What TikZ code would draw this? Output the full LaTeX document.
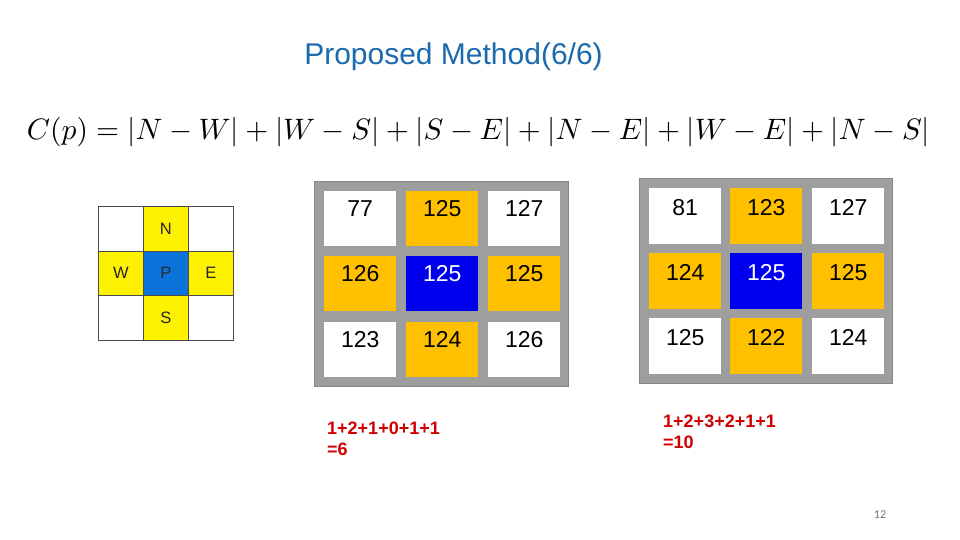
\documentclass[tikz,border=0pt]{standalone}
\usepackage{fontspec}
\setmainfont{Liberation Sans}
\newfontfamily\pagefont{Carlito}
\definecolor{titleblue}{HTML}{1C6AAE}
\definecolor{framegray}{HTML}{9E9E9E}
\definecolor{cellgold}{HTML}{FFC000}
\definecolor{cellblue}{HTML}{0000EE}
\definecolor{nyellow}{HTML}{FFF200}
\definecolor{nblue}{HTML}{0A74DA}
\definecolor{sumred}{HTML}{D00000}
\begin{document}
\begin{tikzpicture}[x=1pt,y=-1pt,
  frame/.style={fill=framegray, draw=framegray!85!black, line width=0.8pt},
  cellL/.style={anchor=north west, minimum width=72pt, inner xsep=0pt, inner ysep=0pt,
     text height=25pt, text depth=30pt, font=\fontsize{23}{23}\selectfont},
  cellR/.style={anchor=north west, minimum width=72pt, inner xsep=0pt, inner ysep=0pt,
     text height=27pt, text depth=29pt, font=\fontsize{23}{23}\selectfont},
  plain/.style={fill=white},
  gold/.style={fill=cellgold},
  ctr/.style={fill=cellblue, text=white},
  ncell/.style={anchor=north west, minimum width=45pt, minimum height=44.5pt, inner sep=0pt,
     draw=black!70, line width=0.6pt, font=\fontsize{16.5}{16.5}\selectfont, text=black!85},
  sumtext/.style={anchor=north west, align=left, text=sumred, inner sep=0pt,
     font=\fontsize{18}{21}\selectfont\bfseries}
]
\useasboundingbox (0,0) rectangle (960,540);
\fill[white] (0,0) rectangle (960,540);

% title
\node[text=titleblue, font=\fontsize{30}{30}\selectfont] (title) at (453.5,57) {Proposed Method(6/6)};

% formula
\node (formula) at (478.5,132) {\resizebox{903pt}{!}{$C(p)=|N-W|+|W-S|+|S-E|+|N-E|+|W-E|+|N-S|$}};

% small neighbourhood grid
\node[ncell, fill=white] (n11) at (98,206) {};
\node[ncell, fill=nyellow] (n12) at (143,206) {N};
\node[ncell, fill=white] (n13) at (188,206) {};
\node[ncell, fill=nyellow] (n21) at (98,250.5) {W};
\node[ncell, fill=nblue] (n22) at (143,250.5) {P};
\node[ncell, fill=nyellow] (n23) at (188,250.5) {E};
\node[ncell, fill=white] (n31) at (98,295) {};
\node[ncell, fill=nyellow] (n32) at (143,295) {S};
\node[ncell, fill=white] (n33) at (188,295) {};

% left 3x3 grid
\draw[frame] (314,181) rectangle (568,386);
\node[cellL, plain] (a11) at (324,191) {77};
\node[cellL, gold]  (a12) at (406,191) {125};
\node[cellL, plain] (a13) at (488,191) {127};
\node[cellL, gold]  (a21) at (324,256) {126};
\node[cellL, ctr]   (a22) at (406,256) {125};
\node[cellL, gold]  (a23) at (488,256) {125};
\node[cellL, plain] (a31) at (324,322) {123};
\node[cellL, gold]  (a32) at (406,322) {124};
\node[cellL, plain] (a33) at (488,322) {126};

% right 3x3 grid
\draw[frame] (639,178) rectangle (892,383);
\node[cellR, plain] (b11) at (649,188) {81};
\node[cellR, gold]  (b12) at (730,188) {123};
\node[cellR, plain] (b13) at (812,188) {127};
\node[cellR, gold]  (b21) at (649,253) {124};
\node[cellR, ctr]   (b22) at (730,253) {125};
\node[cellR, gold]  (b23) at (812,253) {125};
\node[cellR, plain] (b31) at (649,318) {125};
\node[cellR, gold]  (b32) at (730,318) {122};
\node[cellR, plain] (b33) at (812,318) {124};

% sums
\node[sumtext] (sumL) at (327,422) {1+2+1+0+1+1\\=6};
\node[sumtext] (sumR) at (663,415) {1+2+3+2+1+1\\=10};

% page number
\node[text=black!55, font=\pagefont\fontsize{12}{12}\selectfont] (page) at (880,515) {12};
\end{tikzpicture}
\end{document}
